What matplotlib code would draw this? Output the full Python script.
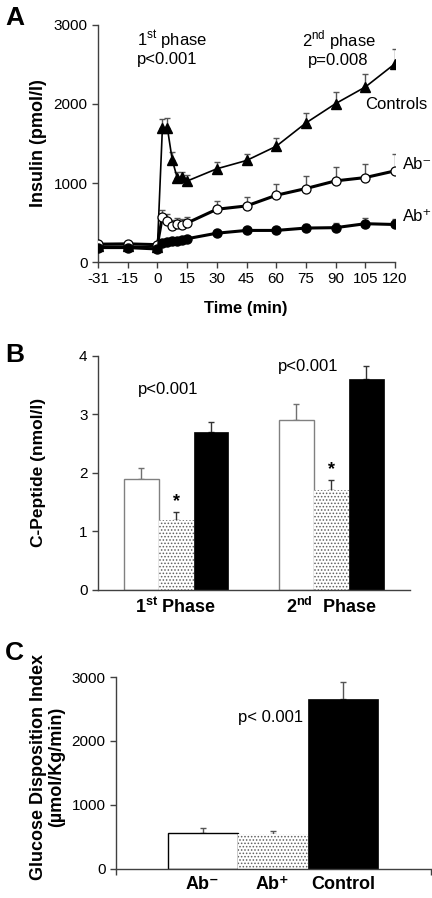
import numpy as np
import matplotlib
matplotlib.use('Agg')
import matplotlib.pyplot as plt

plt.rcParams['font.family'] = ['Liberation Sans', 'DejaVu Sans']
plt.rcParams['mathtext.fontset'] = 'custom'
plt.rcParams['mathtext.rm'] = 'Liberation Sans'
plt.rcParams['mathtext.bf'] = 'Liberation Sans:bold'
plt.rcParams['hatch.linewidth'] = 0.7

# ---- panel A: insulin time course ----
time_ticks = [-31, -15, 0, 15, 30, 45, 60, 75, 90, 105, 120]
times = [-31, -15, 0, 2.5, 5, 7.5, 10, 12.5, 15, 30, 45, 60, 75, 90, 105, 120]
ctrl = [200, 200, 190, 1690, 1700, 1290, 1067, 1070, 1025, 1180, 1285, 1465, 1760, 2005, 2215, 2510]
ctrl_err = [20, 20, 20, 125, 125, 105, 75, 75, 75, 80, 85, 100, 120, 150, 160, 180]
abneg = [226, 230, 220, 575, 524, 451, 481, 469, 494, 668, 710, 845, 930, 1027, 1069, 1154]
abneg_err = [20, 20, 20, 85, 80, 80, 75, 75, 80, 100, 115, 148, 156, 177, 177, 207]
abpos = [183, 183, 165, 245, 255, 260, 270, 280, 295, 365, 400, 400, 430, 435, 485, 475]
abpos_err = [15, 15, 15, 20, 20, 20, 20, 20, 20, 30, 30, 40, 55, 55, 70, 70]

# ---- panel B: C-peptide ----
phases = ['1$^{\\mathbf{st}}$ Phase', '2$^{\\mathbf{nd}}$  Phase']
cp_neg = [1.9, 2.9]
cp_neg_err = [0.18, 0.27]
cp_pos = [1.2, 1.7]
cp_pos_err = [0.13, 0.17]
cp_ctrl = [2.7, 3.6]
cp_ctrl_err = [0.16, 0.22]

# ---- panel C: glucose disposition index ----
groups = ['Ab⁻', 'Ab⁺', 'Control']
gdi = [565, 538, 2660]
gdi_err = [70, 52, 262]

fig = plt.figure(figsize=(4.32, 8.98), dpi=100)
axc = '#404040'

def style(ax):
    for s in ('top', 'right'):
        ax.spines[s].set_visible(False)
    for s in ('left', 'bottom'):
        ax.spines[s].set_color(axc)
        ax.spines[s].set_linewidth(1.0)
    ax.tick_params(colors=axc, labelcolor='black', labelsize=11, length=4, width=1)

# A
axA = fig.add_axes([0.2269, 0.7082, 0.6875, 0.2640])
style(axA)
pos = lambda t: np.interp(t, time_ticks, np.arange(len(time_ticks)))
xp = pos(times)
for vals, errs in ((abpos, abpos_err), (abneg, abneg_err), (ctrl, ctrl_err)):
    axA.errorbar(xp, vals, yerr=[np.zeros(len(vals)), errs], fmt='none',
                 ecolor='#555555', elinewidth=1, capsize=2.5, zorder=2)
axA.plot(xp, ctrl, '-^', color='black', lw=1.2, ms=7, zorder=3)
axA.plot(xp, abneg, '-o', color='black', mfc='white', mec='black', mew=0.9,
         lw=2.2, ms=6.5, zorder=4)
axA.plot(xp, abpos, '-o', color='black', lw=2.2, ms=6.5, zorder=5)
axA.set_xlim(0, 10)
axA.set_ylim(0, 3000)
axA.set_xticks(np.arange(len(time_ticks)))
axA.set_xticklabels([str(t) for t in time_ticks])
axA.set_yticks([0, 1000, 2000, 3000])
axA.set_ylabel('Insulin (pmol/l)', fontsize=13, fontweight='bold')
axA.yaxis.set_label_coords(-0.172, 0.5)
axA.set_xlabel('Time (min)', fontsize=12, fontweight='bold')
axA.xaxis.set_label_coords(0.498, -0.165)
axA.text(0.13, 0.985, '1$^{\\mathrm{st}}$ phase\np<0.001', transform=axA.transAxes,
         fontsize=12, ha='left', va='top', linespacing=1.05)
axA.text(0.81, 0.985, '2$^{\\mathrm{nd}}$ phase\np=0.008', transform=axA.transAxes,
         fontsize=12, ha='center', va='top', linespacing=1.05)
axA.text(9.0, 1990, 'Controls', fontsize=12, ha='left', va='center')
axA.text(10.27, 1230, 'Ab⁻', fontsize=12, ha='left', va='center', clip_on=False)
axA.text(10.27, 580, 'Ab⁺', fontsize=12, ha='left', va='center', clip_on=False)
fig.text(0.012, 0.993, 'A', fontsize=19, fontweight='bold', va='top')

# B
axB = fig.add_axes([0.2269, 0.3430, 0.7222, 0.2609])
style(axB)
gx = np.array([0.0, 4.44])
w = 1.0
axB.bar(gx - w, cp_neg, w, color='white', edgecolor='#808080', lw=1.0, zorder=2)
axB.bar(gx, cp_pos, w, color='white', edgecolor='#606060', hatch='.....', lw=0, zorder=2)
axB.bar(gx + w, cp_ctrl, w, color='black', edgecolor='black', lw=0.5, zorder=2)
axB.errorbar(gx - w, cp_neg, yerr=[[0, 0], cp_neg_err], fmt='none', ecolor='#707070',
             elinewidth=1, capsize=2.5, zorder=1)
axB.errorbar(gx, cp_pos, yerr=[[0, 0], cp_pos_err], fmt='none', ecolor='#333333',
             elinewidth=1, capsize=2.5, zorder=1)
axB.errorbar(gx + w, cp_ctrl, yerr=[[0, 0], cp_ctrl_err], fmt='none', ecolor='#333333',
             elinewidth=1, capsize=2.5, zorder=1)
axB.set_xlim(-2.23, 6.69)
axB.set_ylim(0, 4)
axB.set_yticks([0, 1, 2, 3, 4])
axB.set_xticks(gx)
axB.set_xticklabels(phases, fontsize=13, fontweight='bold')
axB.tick_params(axis='x', length=0, pad=5)
axB.set_ylabel('C-Peptide (nmol/l)', fontsize=12.5, fontweight='bold')
axB.yaxis.set_label_coords(-0.167, 0.5)
for x, y in zip(gx, np.array(cp_pos) + np.array(cp_pos_err)):
    axB.text(x, y + 0.04, '*', fontsize=13, fontweight='bold', ha='center', va='bottom')
axB.text(-1.1, 3.42, 'p<0.001', fontsize=12, ha='left', va='center')
axB.text(2.9, 3.82, 'p<0.001', fontsize=12, ha='left', va='center')
fig.text(0.012, 0.618, 'B', fontsize=19, fontweight='bold', va='top')

# C
axC = fig.add_axes([0.2685, 0.0327, 0.7292, 0.2134])
style(axC)
cx = np.arange(len(groups))
axC.bar(cx[0], gdi[0], 1.0, color='white', edgecolor='black', lw=1.0, zorder=2)
axC.bar(cx[1], gdi[1], 1.0, color='white', edgecolor='#606060', hatch='.....', lw=0, zorder=2)
axC.bar(cx[2], gdi[2], 1.0, color='black', edgecolor='black', lw=0.5, zorder=2)
axC.errorbar(cx, gdi, yerr=[np.zeros(3), gdi_err], fmt='none', ecolor='#555555',
             elinewidth=1, capsize=2.5, zorder=1)
axC.set_xlim(-1.24, 3.26)
axC.set_ylim(0, 3000)
axC.set_yticks([0, 1000, 2000, 3000])
axC.set_xticks(cx)
axC.set_xticklabels(groups, fontsize=13, fontweight='bold')
axC.set_xticks([-1.24, 3.26], minor=True)
axC.tick_params(axis='x', which='major', length=0, pad=5)
axC.tick_params(axis='x', which='minor', length=4, width=1, colors=axc)
axC.set_ylabel('Glucose Disposition Index\n(µmol/Kg/min)', fontsize=13,
               fontweight='bold', linespacing=1.1)
axC.yaxis.set_label_coords(-0.162, 0.53)
axC.text(0.5, 2360, 'p< 0.001', fontsize=12, ha='left', va='center')
fig.text(0.012, 0.286, 'C', fontsize=19, fontweight='bold', va='top')

fig.savefig('out.png', dpi=100)
